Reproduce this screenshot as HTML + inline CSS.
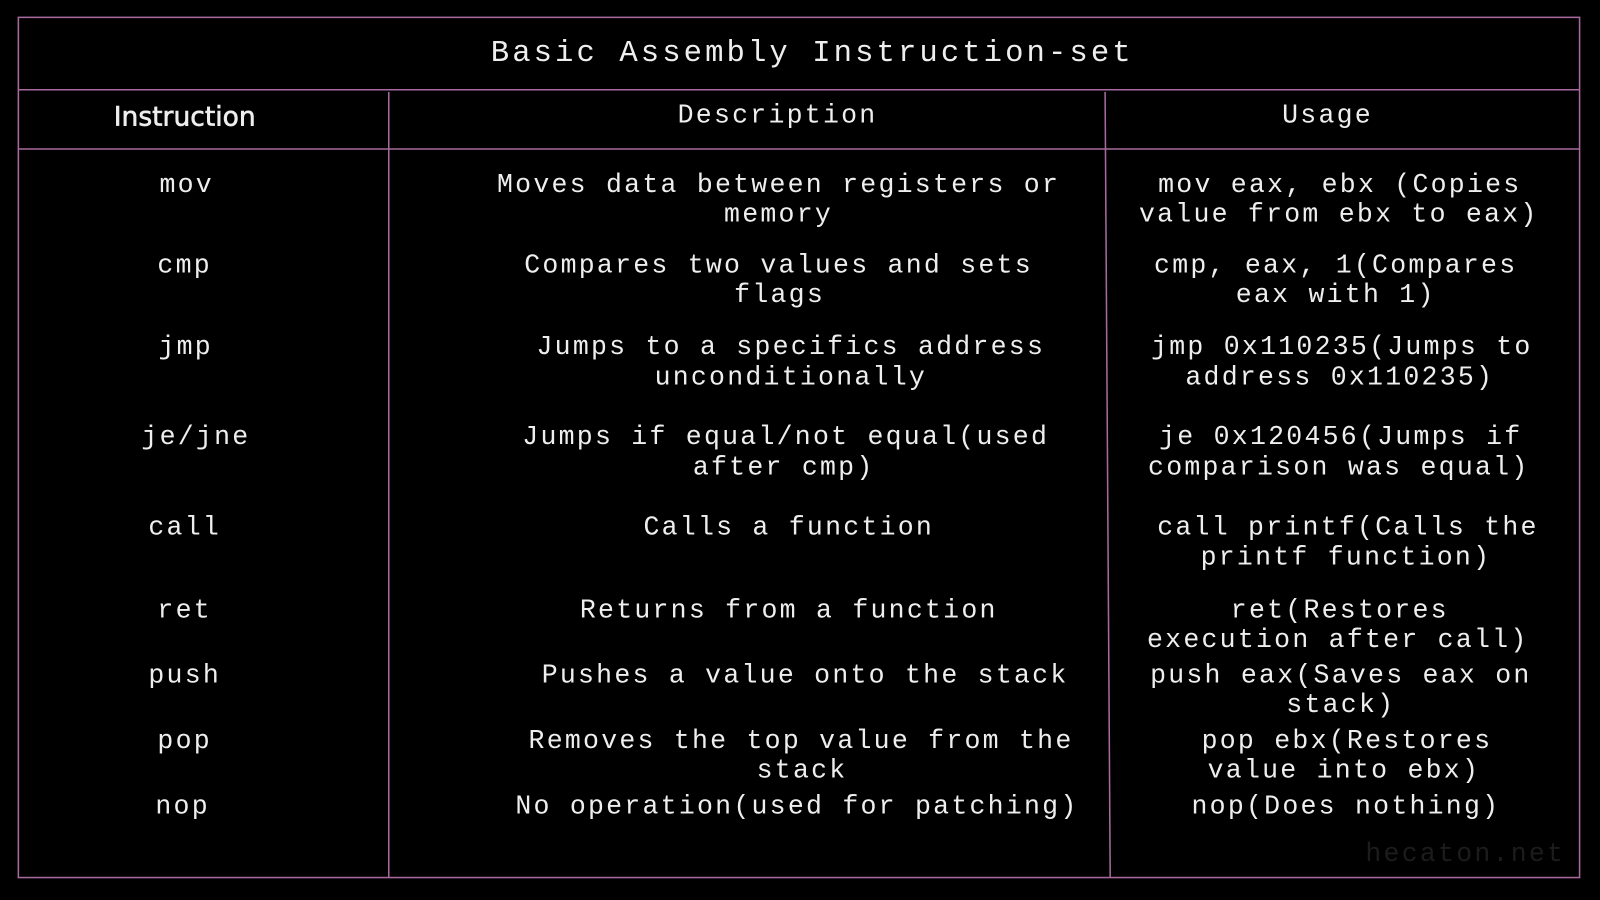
<!DOCTYPE html>
<html><head><meta charset="utf-8"><style>
html,body{margin:0;padding:0;background:#000;width:1600px;height:900px;overflow:hidden}
#c{position:absolute;left:0;top:0;width:1568px;height:882px;transform:scale(1.0204);transform-origin:0 0}
.t{position:absolute;transform:translateX(-50%);white-space:pre;color:#eee;font-family:"Liberation Mono",monospace;font-size:26px;letter-spacing:2.2px;line-height:30px}
svg{position:absolute;left:0;top:0}
</style></head><body><div id="c">
<svg width="1568" height="882">
<g stroke="#a86a9e" stroke-width="1.5" fill="none">
<rect x="18" y="17" width="1530" height="843"/>
<line x1="18" y1="88" x2="1548" y2="88"/>
<line x1="18" y1="146" x2="1548" y2="146"/>
<line x1="381" y1="90" x2="381" y2="860"/>
<line x1="1083" y1="90" x2="1088" y2="860"/>
</g></svg>
<div class="t" style="left:796px;top:38px;font-size:30px;letter-spacing:3px">Basic Assembly Instruction-set</div>
<div class="t" style="left:181px;top:100px;font-family:'DejaVu Sans','Liberation Sans',sans-serif;font-size:26px;letter-spacing:0;-webkit-text-stroke:0.6px #eee">Instruction</div>
<div class="t" style="left:762px;top:98px">Description</div>
<div class="t" style="left:1301px;top:98px">Usage</div>

<div class="t" style="left:183px;top:166px">mov</div>
<div class="t" style="left:763px;top:166px">Moves data between registers or</div>
<div class="t" style="left:763px;top:195px">memory</div>
<div class="t" style="left:1313px;top:166px">mov eax, ebx (Copies</div>
<div class="t" style="left:1312px;top:195px">value from ebx to eax)</div>

<div class="t" style="left:181px;top:245px">cmp</div>
<div class="t" style="left:763px;top:245px">Compares two values and sets</div>
<div class="t" style="left:764px;top:274px">flags</div>
<div class="t" style="left:1309px;top:245px">cmp, eax, 1(Compares</div>
<div class="t" style="left:1309px;top:274px">eax with 1)</div>

<div class="t" style="left:182px;top:325px">jmp</div>
<div class="t" style="left:775px;top:325px">Jumps to a specifics address</div>
<div class="t" style="left:775px;top:355px">unconditionally</div>
<div class="t" style="left:1315px;top:325px">jmp 0x110235(Jumps to</div>
<div class="t" style="left:1313px;top:355px">address 0x110235)</div>

<div class="t" style="left:192px;top:413px">je/jne</div>
<div class="t" style="left:770px;top:413px">Jumps if equal/not equal(used</div>
<div class="t" style="left:768px;top:443px">after cmp)</div>
<div class="t" style="left:1314px;top:413px">je 0x120456(Jumps if</div>
<div class="t" style="left:1312px;top:443px">comparison was equal)</div>

<div class="t" style="left:181px;top:502px">call</div>
<div class="t" style="left:773px;top:502px">Calls a function</div>
<div class="t" style="left:1321px;top:502px">call printf(Calls the</div>
<div class="t" style="left:1319px;top:531px">printf function)</div>

<div class="t" style="left:181px;top:583px">ret</div>
<div class="t" style="left:773px;top:583px">Returns from a function</div>
<div class="t" style="left:1313px;top:583px">ret(Restores</div>
<div class="t" style="left:1311px;top:612px">execution after call)</div>

<div class="t" style="left:181px;top:647px">push</div>
<div class="t" style="left:789px;top:647px">Pushes a value onto the stack</div>
<div class="t" style="left:1314px;top:647px">push eax(Saves eax on</div>
<div class="t" style="left:1314px;top:676px">stack)</div>

<div class="t" style="left:181px;top:711px">pop</div>
<div class="t" style="left:785px;top:711px">Removes the top value from the</div>
<div class="t" style="left:786px;top:740px">stack</div>
<div class="t" style="left:1320px;top:711px">pop ebx(Restores</div>
<div class="t" style="left:1317px;top:740px">value into ebx)</div>

<div class="t" style="left:179px;top:775px">nop</div>
<div class="t" style="left:781px;top:775px">No operation(used for patching)</div>
<div class="t" style="left:1319px;top:775px">nop(Does nothing)</div>

<div class="t" style="left:1436px;top:822px;color:#1c1c1c">hecaton.net</div>
</div></body></html>
